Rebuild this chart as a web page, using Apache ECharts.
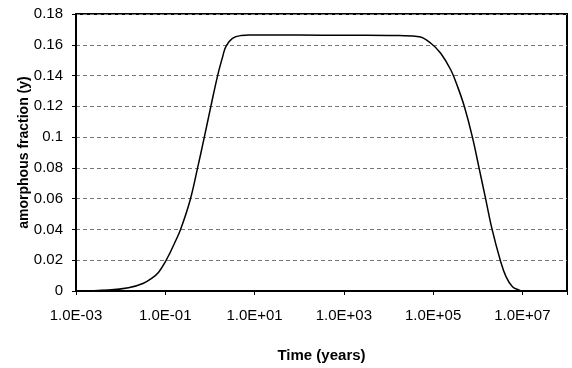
<!DOCTYPE html>
<html>
<head>
<meta charset="utf-8">
<script src="https://cdn.jsdelivr.net/npm/echarts@6/dist/echarts.min.js"></script>
<style>html,body{margin:0;padding:0;background:#fff}#c{width:572px;height:368px}</style>
</head>
<body>
<div id="c"></div>
<script>
// Time (years) and amorphous fraction
var times = [1e-3, 5.4e-3, 1.5e-2, 3.16e-2, 5.0e-2, 7.1e-2, 0.1, 0.126, 0.158, 0.22, 0.36, 0.53, 0.75, 1.05, 1.49, 1.92, 2.29, 3.2, 5.0, 7.6,
             1e2, 1e3, 1e4, 1.7e4, 4.9e4, 8.9e4, 1.48e5, 2.5e5, 3.55e5, 5.0e5, 7.6e5, 1.07e6, 1.5e6, 2.1e6, 3.2e6, 4.3e6, 6.0e6, 8.5e6, 1e7];
var fraction = [0, 0.0006, 0.0021, 0.0049, 0.0083, 0.0122, 0.0190, 0.0245, 0.0305, 0.040, 0.059, 0.080, 0.100, 0.120, 0.140, 0.152, 0.159, 0.1642, 0.166, 0.1663,
                0.1663, 0.1662, 0.1661, 0.1660, 0.1652, 0.161, 0.1545, 0.1436, 0.1327, 0.120, 0.100, 0.080, 0.060, 0.040, 0.020, 0.0093, 0.0028, 0.0006, 0];
var xMin = 1e-3, xMax = 1e8;
var yMin = 0, yMax = 0.18, yStep = 0.02;
var xTitle = 'Time (years)';
var yTitle = 'amorphous fraction (y)';

var pts = times.map(function (t, i) { return [t, fraction[i]]; });
function fmtExp(v) {
  var e = Math.round(Math.log10(v));
  if (e === 8) return '';
  var s = String(Math.abs(e)); if (s.length < 2) s = '0' + s;
  return '1.0E' + (e < 0 ? '-' : '+') + s;
}
var font = '"Liberation Sans", Arial, sans-serif';
var chart = echarts.init(document.getElementById('c'));
chart.setOption({
  animation: false,
  grid: { left: 76, right: 5, top: 14, bottom: 77, show: true, borderColor: '#000', borderWidth: 2, backgroundColor: 'transparent' },
  xAxis: {
    type: 'log', logBase: 10, min: xMin, max: xMax, interval: 2,
    name: xTitle, nameLocation: 'middle', nameGap: 57, nameMoveOverlap: false,
    nameTextStyle: { fontFamily: font, fontSize: 15, fontWeight: 'bold', color: '#000' },
    axisLine: { lineStyle: { color: '#000', width: 2 } },
    axisTick: { show: true, length: 4, lineStyle: { color: '#000' } },
    minorTick: { show: false },
    axisLabel: { fontFamily: font, fontSize: 15, color: '#000', margin: 17, formatter: fmtExp },
    splitLine: { show: false }
  },
  yAxis: {
    type: 'value', min: yMin, max: yMax, interval: yStep,
    name: yTitle, nameLocation: 'middle', nameGap: 45, nameRotate: 90, nameMoveOverlap: false,
    nameTextStyle: { fontFamily: font, fontSize: 14, fontWeight: 'bold', color: '#000' },
    axisLine: { show: true, lineStyle: { color: '#000', width: 2 } },
    axisTick: { show: true, length: 4, lineStyle: { color: '#000' } },
    axisLabel: { fontFamily: font, fontSize: 15, color: '#000', margin: 13,
      formatter: function (v) { return String(Math.round(v * 100) / 100); } },
    splitLine: { show: true, lineStyle: { color: '#777', width: 1, type: [4, 3] } }
  },
  series: [{
    type: 'line', data: pts, smooth: 0.4, symbol: 'none',
    lineStyle: { color: '#000', width: 1.5 }
  }]
});
</script>
</body>
</html>
